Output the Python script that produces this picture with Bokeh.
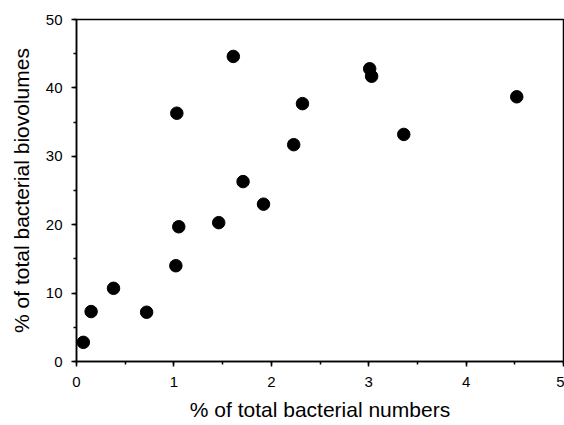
from bokeh.plotting import figure
from bokeh.models import Range1d, SingleIntervalTicker
from bokeh.embed import file_html
from bokeh.resources import INLINE

# % of total bacterial numbers (x) vs % of total bacterial biovolumes (y)
pct_numbers = [0.07, 0.15, 0.38, 0.72, 1.02, 1.05, 1.03, 1.46, 1.61, 1.71,
               1.92, 2.23, 2.32, 3.01, 3.03, 3.36, 4.52]
pct_biovolumes = [2.8, 7.3, 10.7, 7.2, 14.0, 19.7, 36.3, 20.3, 44.6, 26.3,
                  23.0, 31.7, 37.7, 42.8, 41.7, 33.2, 38.7]

x_title = "% of total bacterial numbers"
y_title = "% of total bacterial biovolumes"

FONT = "Liberation Sans"

p = figure(width=564, height=425, output_backend="svg", toolbar_location=None,
           x_range=Range1d(0, 5), y_range=Range1d(0, 50),
           min_border_left=76, min_border_right=1, min_border_top=19,
           min_border_bottom=64)

p.scatter(pct_numbers, pct_biovolumes, size=12.5, fill_color="black",
          line_color="black")

p.xgrid.visible = False
p.ygrid.visible = False
p.outline_line_color = "black"
p.outline_line_width = 1.5

p.xaxis.ticker = SingleIntervalTicker(interval=1, num_minor_ticks=2)
p.yaxis.ticker = SingleIntervalTicker(interval=10, num_minor_ticks=2)

for ax in (p.xaxis, p.yaxis):
    ax.axis_line_color = "black"
    ax.axis_line_width = 1.5
    ax.major_tick_line_color = "black"
    ax.major_tick_line_width = 1.5
    ax.minor_tick_line_color = "black"
    ax.minor_tick_line_width = 1.5
    ax.major_tick_out = 5
    ax.major_tick_in = 0
    ax.minor_tick_out = 3
    ax.minor_tick_in = 0
    ax.major_label_text_font = FONT
    ax.major_label_text_font_size = "15px"
    ax.major_label_text_color = "black"
    ax.axis_label_text_font = FONT
    ax.axis_label_text_font_size = "21px"
    ax.axis_label_text_font_style = "normal"
    ax.axis_label_text_color = "black"

p.xaxis.axis_label = x_title
p.yaxis.axis_label = y_title
p.xaxis.major_label_standoff = 10
p.yaxis.major_label_standoff = 9
p.xaxis.axis_label_standoff = 8
p.yaxis.axis_label_standoff = 10

open("out.html", "w").write(file_html(p, INLINE))
